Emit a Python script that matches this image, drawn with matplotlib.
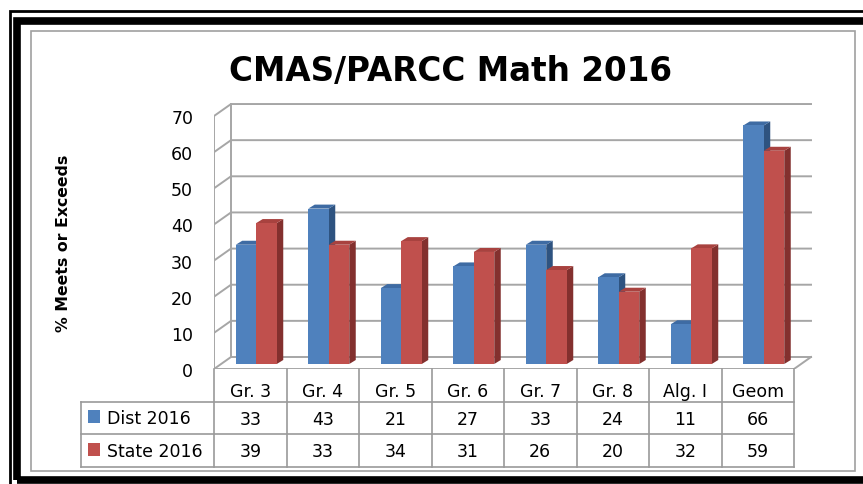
import matplotlib
matplotlib.use("Agg")
import matplotlib.pyplot as plt
from matplotlib.patches import Polygon, Rectangle

# data
categories = ["Gr. 3", "Gr. 4", "Gr. 5", "Gr. 6", "Gr. 7", "Gr. 8", "Alg. I", "Geom"]
series_names = ["Dist 2016", "State 2016"]
dist_2016 = [33, 43, 21, 27, 33, 24, 11, 66]
state_2016 = [39, 33, 34, 31, 26, 20, 32, 59]
y_ticks = [0, 10, 20, 30, 40, 50, 60, 70]

front_cols = ["#4F81BD", "#C0504D"]
top_cols = ["#3E6BA3", "#A8423F"]
side_cols = ["#2E5380", "#83302E"]
grid_col = "#A6A6A6"

plt.rcParams['font.family'] = ['DejaVu Sans']

W, H = 863, 485
fig = plt.figure(figsize=(W / 100, H / 100), dpi=100)
fig.patch.set_facecolor("white")


def fx(px):
    return px / W


def fy(py):
    return 1 - py / H


# frame (double black border, cropped at right/bottom) + inner gray box
fig.patches.append(Rectangle((fx(9.5), fy(490)), fx(880), fy(11.5) - fy(490), fill=False,
                             ec="black", lw=2, transform=fig.transFigure))
fig.patches.append(Rectangle((fx(17), fy(481)), fx(880), fy(22) - fy(481), fill=False,
                             ec="black", lw=5.5, transform=fig.transFigure))
fig.patches.append(Rectangle((fx(30.5), fy(472)), fx(855) - fx(30.5), fy(32) - fy(472), fill=False,
                             ec="#A0A0A0", lw=1.2, transform=fig.transFigure))

# main axes: category units 72.5 px, value units 3.614 px
ux, uy = 72.5, 3.614
ax_l, ax_r, ax_b, ax_t = 214, 830, 370, 95
ax = fig.add_axes([fx(ax_l), fy(ax_b), fx(ax_r) - fx(ax_l), fy(ax_t) - fy(ax_b)])
ax.set_xlim(0, (ax_r - ax_l) / ux)
ax.set_ylim(0, (ax_b - ax_t) / uy)
ax.set_facecolor("none")
for s in ax.spines.values():
    s.set_visible(False)
ax.set_xticks([])
ax.set_yticks(y_ticks)
ax.set_yticklabels([str(v) for v in y_ticks], fontsize=12.5, va="top")
ax.tick_params(axis="y", length=0, pad=15)
for t in ax.get_yticklabels():
    t.set_va("center_baseline")

# wall depth offset
dx, dy = 17 / ux, 12 / uy
n = len(categories)
for v in y_ticks:
    ax.plot([0, dx, n + dx], [v, v + dy, v + dy], color=grid_col, lw=1.4, zorder=1)
ax.plot([0, 0], [0, y_ticks[-1]], color=grid_col, lw=1.4, zorder=1)
ax.plot([dx, dx], [dy, y_ticks[-1] + dy], color=grid_col, lw=1.4, zorder=1)
# floor
ax.plot([0, n, n + dx], [0, 0, dy], color=grid_col, lw=1.4, zorder=1)

# 3d bars
bw = 20.5 / ux
bx, by = 6 / ux, 5 / uy
ddx, ddy = 6.5 / ux, 4 / uy
for j, vals in enumerate([dist_2016, state_2016]):
    for i, v in enumerate(vals):
        x0 = i + 0.5 - bw + j * bw + bx
        x1 = x0 + bw
        y0 = by
        y1 = by + v
        ax.add_patch(Polygon([(x1, y0), (x1 + ddx, y0 + ddy), (x1 + ddx, y1 + ddy), (x1, y1)],
                             closed=True, fc=side_cols[j], ec="none", zorder=3 + j))
        ax.add_patch(Polygon([(x0, y1), (x0 + ddx, y1 + ddy), (x1 + ddx, y1 + ddy), (x1, y1)],
                             closed=True, fc=top_cols[j], ec="none", zorder=3 + j))
        ax.add_patch(Rectangle((x0, y0), bw, v, fc=front_cols[j], ec="none", zorder=3 + j))

# titles
fig.text(fx(451), fy(71), "CMAS/PARCC Math 2016", fontsize=23.5, fontweight="bold",
         ha="center", va="center")
fig.text(fx(63), fy(243), "% Meets or Exceeds", fontsize=11.3, fontweight="bold",
         rotation=90, ha="center", va="center")

# data table
tb_l, tb_r, tb_t, tb_b = 80.5, 794, 370, 468
tax = fig.add_axes([fx(tb_l), fy(tb_b), fx(tb_r) - fx(tb_l), fy(tb_t) - fy(tb_b)])
leg_w = (214 - tb_l) / ux
tax.set_xlim(-leg_w, n)
tax.set_ylim(3, 0)
tax.axis("off")
tcol = "#9A9A9A"
for r in [1, 2, 3]:
    tax.plot([-leg_w, n], [r, r], color=tcol, lw=1.2, clip_on=False)
for c in range(n + 1):
    tax.plot([c, c], [0, 3], color=tcol, lw=1.2, clip_on=False)
tax.plot([-leg_w, -leg_w], [1, 3], color=tcol, lw=1.2, clip_on=False)

for c, cat in enumerate(categories):
    tax.text(c + 0.5, 0.68, cat, ha="center", va="center", fontsize=12.5)
for r, vals in enumerate([dist_2016, state_2016]):
    for c, v in enumerate(vals):
        tax.text(c + 0.5, r + 1.52, str(v), ha="center", va="center", fontsize=12.5)
    tax.add_patch(Rectangle((-leg_w + 7.5 / ux, r + 1.26), 12 / ux, 0.4,
                            fc=front_cols[r], ec="none"))
    tax.text(-leg_w + 26.5 / ux, r + 1.5, series_names[r], ha="left", va="center", fontsize=12.5)

fig.savefig("out.png", dpi=100, facecolor="white")
